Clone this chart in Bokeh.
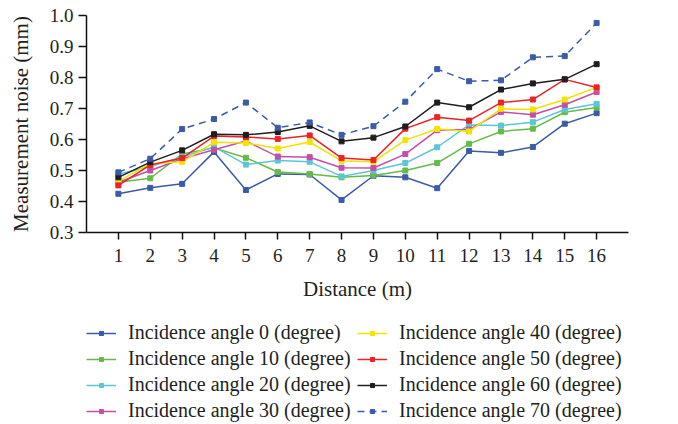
from bokeh.plotting import figure
from bokeh.layouts import column
from bokeh.models import Range1d, FixedTicker, Legend, LegendItem, CustomJSTickFormatter
from bokeh.embed import file_html
from bokeh.resources import INLINE

distance = list(range(1, 17))
angle0 = [0.425, 0.444, 0.457, 0.560, 0.437, 0.489, 0.487, 0.405, 0.483, 0.478, 0.443, 0.563, 0.557, 0.576, 0.651, 0.685]
angle10 = [0.462, 0.475, 0.553, 0.573, 0.541, 0.495, 0.489, 0.478, 0.484, 0.500, 0.524, 0.586, 0.626, 0.635, 0.688, 0.703]
angle20 = [0.488, 0.513, 0.544, 0.576, 0.519, 0.532, 0.528, 0.481, 0.500, 0.524, 0.575, 0.647, 0.645, 0.656, 0.697, 0.715]
angle30 = [0.462, 0.500, 0.538, 0.567, 0.595, 0.545, 0.543, 0.509, 0.508, 0.553, 0.630, 0.632, 0.689, 0.680, 0.712, 0.753]
angle40 = [0.466, 0.522, 0.528, 0.591, 0.589, 0.571, 0.592, 0.531, 0.528, 0.598, 0.634, 0.626, 0.699, 0.697, 0.729, 0.768]
angle50 = [0.452, 0.518, 0.540, 0.611, 0.608, 0.602, 0.613, 0.540, 0.534, 0.635, 0.672, 0.661, 0.719, 0.729, 0.794, 0.768]
angle60 = [0.478, 0.527, 0.565, 0.617, 0.615, 0.624, 0.644, 0.594, 0.606, 0.642, 0.719, 0.704, 0.761, 0.781, 0.794, 0.843]
angle70 = [0.494, 0.538, 0.634, 0.666, 0.719, 0.638, 0.655, 0.615, 0.643, 0.722, 0.827, 0.788, 0.791, 0.865, 0.869, 0.976]

series = [angle0, angle10, angle20, angle30, angle40, angle50, angle60, angle70]
labels = ["Incidence angle %d (degree)" % a for a in [0, 10, 20, 30, 40, 50, 60, 70]]
colors = ["#3b5ba8", "#66bb47", "#5cc6d6", "#c44fa6", "#f2e300", "#ec2227", "#1e1e1e", "#3b5ba8"]
dashes = ["solid"] * 7 + ["7 5"]
y_ticks = [0.3, 0.4, 0.5, 0.6, 0.7, 0.8, 0.9, 1.0]

FONT = "Liberation Serif"
TXT = "#231f20"

p = figure(width=678, height=310, output_backend="svg", toolbar_location=None,
           x_range=Range1d(0, 17), y_range=Range1d(0.3, 1.0),
           min_border_left=86, min_border_right=50, min_border_top=15, min_border_bottom=78)
p.outline_line_color = None
p.grid.visible = False

for s, c, d in zip(series, colors, dashes):
    p.line(distance, s, line_color=c, line_width=1.5, line_dash=d)
    p.scatter(distance, s, marker="square", size=5, fill_color=c, line_color=c)

for ax in (p.xaxis[0], p.yaxis[0]):
    ax.axis_line_width = 1.5
    ax.axis_line_color = "#111111"
    ax.major_tick_line_color = "#111111"
    ax.major_tick_line_width = 1.5
    ax.major_tick_out = 7
    ax.major_tick_in = 0
    ax.minor_tick_line_color = None
    ax.major_label_text_font = FONT
    ax.major_label_text_font_size = "19px"
    ax.major_label_text_color = TXT
    ax.axis_label_text_font = FONT
    ax.axis_label_text_font_size = "21px"
    ax.axis_label_text_font_style = "normal"
    ax.axis_label_text_color = TXT

p.xaxis.ticker = FixedTicker(ticks=distance)
p.yaxis.ticker = FixedTicker(ticks=y_ticks)
p.yaxis.formatter = CustomJSTickFormatter(code="return tick.toFixed(1);")
p.xaxis.axis_label = "Distance (m)"
p.yaxis.axis_label = "Measurement noise (mm)"
p.yaxis.major_tick_out = 8
p.xaxis.major_label_standoff = 9
p.xaxis.axis_label_standoff = 12
p.yaxis.major_label_standoff = 5
p.yaxis.axis_label_standoff = 14

# legend panel: renderers lie outside its visible range, only their legend swatches show
q = figure(width=678, height=114, output_backend="svg", toolbar_location=None,
           x_axis_type=None, y_axis_type=None,
           x_range=Range1d(-40, -30), y_range=Range1d(-40, -30), min_border=0)
q.outline_line_color = None
q.grid.visible = False
items = []
for s, lab, c, d in zip(series, labels, colors, dashes):
    r1 = q.line(distance, s, line_color=c, line_width=1.5, line_dash=d)
    r2 = q.scatter(distance, s, marker="square", size=5, fill_color=c, line_color=c)
    items.append(LegendItem(label=lab, renderers=[r1, r2]))

legend = Legend(items=items, nrows=4, orientation="vertical", location=(0, 2),
                label_text_font=FONT, label_text_font_size="20px", label_text_color=TXT,
                glyph_width=30, glyph_height=10, label_standoff=12, spacing=3, label_width=226,
                border_line_color=None, background_fill_alpha=0, padding=0, margin=0)
q.add_layout(legend, "center")

layout = column(p, q, spacing=0)
open("out.html", "w").write(file_html(layout, INLINE))
